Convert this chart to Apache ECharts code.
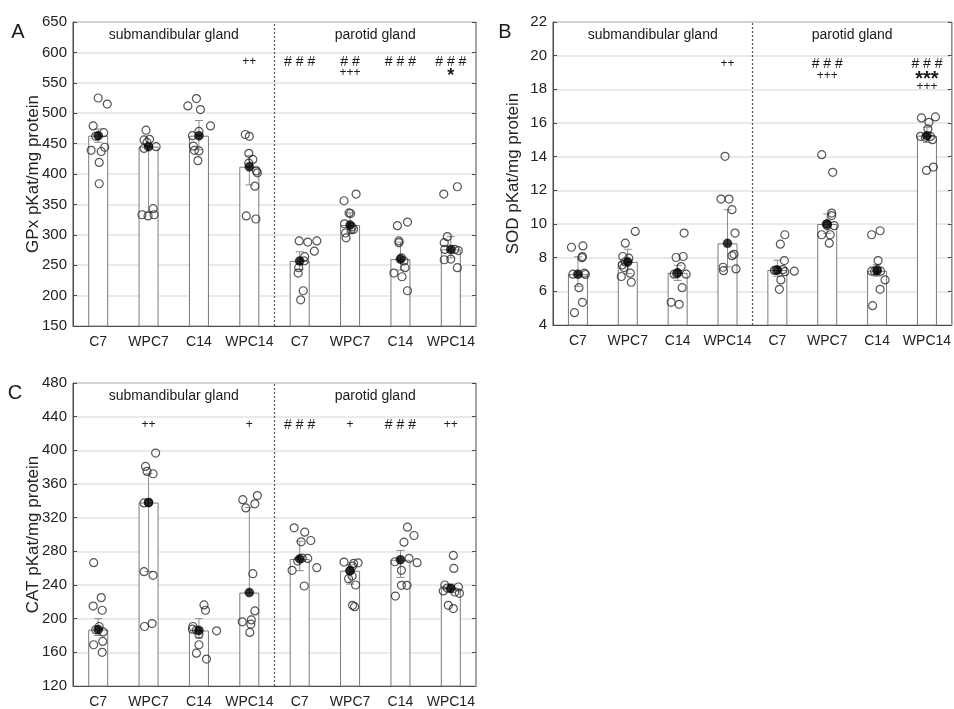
<!DOCTYPE html>
<html><head><meta charset="utf-8">
<script src="https://cdn.jsdelivr.net/npm/echarts/dist/echarts.min.js"></script>
<style>html,body{margin:0;padding:0;background:#fff}#c{width:954px;height:709px}</style>
</head><body><div id="c"></div>
<script>
// ---------- DATA ----------
const categories = ['C7', 'WPC7', 'C14', 'WPC14', 'C7', 'WPC7', 'C14', 'WPC14'];
const glands = ['submandibular gland', 'parotid gland'];

// Panel A: GPx
const gpxMean = [463, 445, 463, 412, 257, 316, 260, 276];
const gpxLow  = [452, 337, 440, 382, 243, 303, 242, 262];
const gpxHigh = [474, 445, 488, 430, 272, 336, 288, 297];
const gpxPoints = [
  [525, 515, 479, 468, 462, 444, 439, 437, 419, 384],
  [472, 456, 457, 452, 442, 445, 343, 333, 331, 333],
  [524, 512, 506, 479, 470, 463, 446, 439, 438, 422],
  [465, 462, 434, 424, 418, 405, 402, 380, 331, 326],
  [290, 288, 290, 273, 264, 257, 246, 237, 208, 193],
  [367, 356, 336, 335, 318, 313, 309, 308, 303, 295],
  [321, 315, 290, 287, 262, 257, 246, 237, 231, 208],
  [379, 367, 297, 287, 276, 276, 274, 259, 260, 246]
];
const gpxJitter = [
  [0, 0.18, -0.10, 0.11, -0.05, 0.13, -0.14, 0.06, 0.02, 0.02],
  [-0.05, -0.09, 0.02, -0.03, -0.09, 0.15, 0.09, -0.13, -0.01, 0.11],
  [-0.05, -0.22, 0.03, 0.23, 0, -0.13, -0.11, -0.09, 0, -0.02],
  [-0.08, 0, -0.01, 0.07, -0.01, 0.14, 0.16, 0.11, -0.06, 0.13],
  [-0.01, 0.16, 0.34, 0.29, 0.10, 0.09, -0.02, -0.03, 0.07, 0.02],
  [0.12, -0.12, -0.02, 0.01, -0.11, 0.04, 0.07, 0.02, -0.09, -0.08],
  [0.14, -0.06, -0.03, -0.03, 0.02, 0.07, 0.09, -0.13, 0.03, 0.14],
  [0.13, -0.14, -0.07, -0.13, -0.12, 0.08, 0.15, -0.13, 0, 0.13]
];
const gpxSig = [
  ['', '', '', '++', '# # #', '# #', '# # #', '# # #'],
  ['', '', '', '', '', '+++', '', '*']
];

// Panel B: SOD
const sodMean = [7.02, 7.75, 7.1, 8.85, 7.27, 10.0, 7.22, 15.25];
const sodLow  = [6.3, 7.05, 6.65, 7.45, 6.9, 9.45, 6.9, 14.85];
const sodHigh = [8.05, 8.5, 7.55, 10.85, 7.85, 10.6, 7.6, 15.75];
const sodPoints = [
  [8.62, 8.70, 8.07, 8.0, 7.02, 7.08, 7.0, 6.22, 5.35, 4.73],
  [9.56, 8.86, 8.07, 7.97, 7.75, 7.57, 7.41, 6.88, 7.08, 6.54],
  [9.46, 8.01, 8.07, 7.47, 7.02, 7.05, 7.02, 6.22, 5.35, 5.23],
  [14.02, 11.48, 11.48, 10.85, 9.46, 8.2, 8.12, 7.43, 7.23, 7.33],
  [9.36, 8.8, 7.83, 7.24, 7.26, 7.29, 7.17, 7.2, 6.68, 6.12],
  [14.12, 13.07, 10.65, 10.5, 9.9, 9.9, 9.36, 9.36, 8.86, 10.0],
  [9.6, 9.36, 7.83, 7.2, 7.2, 7.2, 6.68, 6.12, 5.15, 7.3],
  [16.3, 16.36, 16.04, 15.65, 15.21, 15.15, 15.01, 13.18, 13.38, 15.2]
];
const sodJitter = [
  [-0.13, 0.10, 0.09, 0.08, -0.10, 0.13, 0.15, 0.02, 0.09, -0.07],
  [0.15, -0.05, -0.10, 0.02, -0.05, -0.11, -0.08, -0.13, 0.05, 0.07],
  [0.13, -0.03, 0.11, 0.07, -0.07, -0.02, 0.17, 0.09, -0.13, 0.03],
  [-0.05, -0.13, 0.03, 0.09, 0.15, 0.13, 0.09, -0.09, -0.08, 0.17],
  [0.15, 0.06, 0.14, -0.06, -0.03, 0.11, 0.15, 0.34, 0.07, 0.04],
  [-0.11, 0.11, 0.09, 0.09, 0, 0.14, -0.11, 0.06, 0.04, -0.02],
  [0.06, -0.11, 0.02, -0.11, -0.05, 0.07, 0.16, 0.06, -0.09, 0.0],
  [-0.11, 0.17, 0.04, 0.02, -0.13, -0.03, 0.11, -0.01, 0.13, 0.07]
];
const sodSig = [
  ['', '', '', '++', '', '# # #', '', '# # #'],
  ['', '', '', '', '', '+++', '', '***'],
  ['', '', '', '', '', '', '', '+++']
];

// Panel C: CAT
const catMean = [187, 338, 186, 231, 271, 257, 270, 236];
const catLow  = [180, 256, 177, 231, 257, 241, 249, 231];
const catHigh = [200, 372, 200, 332, 292, 264, 281, 241];
const catPoints = [
  [266.5, 225, 215, 210, 190.7, 186.7, 184.3, 173, 169, 160],
  [396.8, 380.9, 375, 372.2, 337.5, 338, 255.8, 251.5, 190.7, 194.2],
  [216.3, 210, 190.7, 187.5, 186.5, 185.5, 181.6, 169, 159, 152],
  [346.2, 341.4, 336.4, 331.6, 253.4, 209.2, 196.2, 198.5, 193.4, 183.6],
  [307.9, 302.8, 292.9, 291.3, 268.4, 271.6, 257.4, 260.6, 238.8, 272],
  [267.2, 265.6, 266.4, 262.5, 247.5, 250.7, 240, 215.9, 214.2, 257],
  [308.7, 298.8, 290.9, 267.6, 271.6, 266.5, 257.4, 239.6, 239.6, 226.9],
  [275.1, 259.7, 240, 237.6, 236.4, 231.7, 230.1, 215.9, 212, 233]
];
const catJitter = [
  [-0.09, 0.06, -0.10, 0.08, 0.02, -0.05, 0.10, 0.09, -0.09, 0.08],
  [0.14, -0.06, -0.03, 0.09, -0.09, 0, -0.09, 0.09, -0.08, 0.07],
  [0.10, 0.13, -0.12, -0.13, -0.05, 0.35, 0, 0, -0.05, 0.15],
  [0.16, -0.13, 0.11, -0.07, 0.07, 0.11, -0.14, 0.04, 0.03, 0.01],
  [-0.11, 0.10, 0.22, 0.03, -0.04, 0.16, -0.15, 0.34, 0.09, 0.05],
  [-0.12, 0.07, 0.16, 0.05, -0.03, 0.04, 0.11, 0.05, 0.09, 0.0],
  [0.14, 0.27, 0.07, -0.11, 0.17, 0.33, 0.02, 0.02, 0.13, -0.10],
  [0.05, 0.06, -0.12, 0.15, -0.07, 0.08, 0.17, -0.05, 0.05, -0.15]
];
const catSig = [
  ['', '++', '', '+', '# # #', '+', '# # #', '++']
];

// ---------- LAYOUT ----------
const FONT = '"Liberation Sans", Arial, Helvetica, sans-serif';
const grids = [
  {left: 73, top: 22, width: 403, height: 304},
  {left: 553, top: 22, width: 400, height: 303},
  {left: 73, top: 383, width: 403, height: 304}
];
const panels = [
  {letter: 'A', name: 'GPx pKat/mg protein', min: 150, max: 650, interval: 50,
   mean: gpxMean, low: gpxLow, high: gpxHigh, pts: gpxPoints, jit: gpxJitter, sig: gpxSig,
   rowY: [40, 51], letterX: 18, letterY: 10},
  {letter: 'B', name: 'SOD pKat/mg protein', min: 4, max: 22, interval: 2,
   mean: sodMean, low: sodLow, high: sodHigh, pts: sodPoints, jit: sodJitter, sig: sodSig,
   rowY: [42, 54, 65], letterX: 505, letterY: 10},
  {letter: 'C', name: 'CAT pKat/mg protein', min: 120, max: 480, interval: 40,
   mean: catMean, low: catLow, high: catHigh, pts: catPoints, jit: catJitter, sig: catSig,
   rowY: [42], letterX: 15, letterY: 10}
];

const AX = '#4a4a4a';
const option = {animation: false, textStyle: {fontFamily: FONT}, grid: [], xAxis: [], yAxis: [], series: []};

panels.forEach((p, k) => {
  option.grid.push(Object.assign({show: true, borderColor: AX, borderWidth: 1, backgroundColor: 'transparent'}, grids[k]));
  option.xAxis.push({gridIndex: k, type: 'category', data: categories, position: 'bottom',
    axisLine: {lineStyle: {color: AX}},
    axisTick: {inside: true, alignWithLabel: true, length: 4, lineStyle: {color: AX}},
    axisLabel: {color: '#222', fontSize: 14, margin: 9, interval: 0, fontFamily: FONT}, splitLine: {show: false}});
  option.xAxis.push({gridIndex: k, type: 'category', data: categories, position: 'top',
    axisLine: {show: false},
    axisTick: {inside: true, alignWithLabel: true, interval: 0, length: 4, lineStyle: {color: AX}},
    axisLabel: {show: false, interval: 0}, splitLine: {show: false}});
  option.xAxis.push({gridIndex: k, type: 'value', min: 0, max: 8, show: false});
  option.yAxis.push({gridIndex: k, type: 'value', min: p.min, max: p.max, interval: p.interval, position: 'left',
    name: p.name, nameLocation: 'middle', nameGap: 31, nameRotate: 90, nameMoveOverlap: false,
    nameTextStyle: {fontSize: 17, color: '#222', fontFamily: FONT},
    axisLine: {show: true, lineStyle: {color: AX}},
    axisTick: {show: true, inside: true, length: 4, lineStyle: {color: AX}},
    axisLabel: {fontSize: 15, color: '#222', margin: 6, fontFamily: FONT},
    splitLine: {show: true, lineStyle: {color: '#e3e3e3', width: 1.5}}});
  option.yAxis.push({gridIndex: k, type: 'value', min: p.min, max: p.max, interval: p.interval, position: 'right',
    axisLine: {show: false},
    axisTick: {show: true, inside: true, length: 4, lineStyle: {color: AX}},
    axisLabel: {show: false}, splitLine: {show: false}});

  const xb = 3 * k, xv = 3 * k + 2, yl = 2 * k;
  option.series.push({type: 'bar', xAxisIndex: xb, yAxisIndex: yl, data: p.mean, barWidth: 20, silent: true,
    itemStyle: {color: '#fff', borderColor: '#7a7a7a', borderWidth: 1}, z: 2});
  option.series.push({type: 'custom', xAxisIndex: xv, yAxisIndex: yl, silent: true, z: 3,
    data: p.low.map((lo, i) => [i + 0.5, lo, p.high[i]]),
    encode: {x: 0, y: [1, 2]},
    renderItem: (params, api) => {
      const x = api.value(0);
      const a = api.coord([x, api.value(1)]), b = api.coord([x, api.value(2)]);
      const st = {stroke: '#8c8c8c', lineWidth: 1};
      return {type: 'group', children: [
        {type: 'line', shape: {x1: a[0], y1: a[1], x2: b[0], y2: b[1]}, style: st},
        {type: 'line', shape: {x1: b[0] - 4, y1: b[1], x2: b[0] + 4, y2: b[1]}, style: st},
        {type: 'line', shape: {x1: a[0] - 4, y1: a[1], x2: a[0] + 4, y2: a[1]}, style: st}
      ]};
    }});
  const open = [];
  p.pts.forEach((arr, i) => arr.forEach((v, j) => open.push([i + 0.5 + p.jit[i][j], v])));
  option.series.push({type: 'scatter', xAxisIndex: xv, yAxisIndex: yl, data: open, silent: true, z: 4,
    symbol: 'circle', symbolSize: 8,
    itemStyle: {color: 'rgba(255,255,255,0)', borderColor: '#2a2a2a', borderWidth: 1.2},
    markLine: {silent: true, symbol: 'none', label: {show: false},
      lineStyle: {type: [2, 2], color: '#555', width: 1.2}, data: [{xAxis: 4}]}});
  option.series.push({type: 'scatter', xAxisIndex: xv, yAxisIndex: yl, silent: true, z: 5,
    data: p.mean.map((m, i) => [i + 0.5, m]), symbol: 'circle', symbolSize: 9,
    itemStyle: {color: '#000', borderColor: '#000', borderWidth: 0.5}});
});

const chart = echarts.init(document.getElementById('c'));
chart.setOption(option);

// ---------- TEXT ANNOTATIONS ----------
const graphics = [];
function txt(text, x, y, size, weight) {
  graphics.push({type: 'text', silent: true, z: 10, style: {text: text, x: x, y: y, fill: '#1a1a1a',
    fontSize: size, fontWeight: weight || 'normal', fontFamily: FONT, align: 'center', verticalAlign: 'middle'}});
}
panels.forEach((p, k) => {
  const g = grids[k];
  const xv = 3 * k + 2;
  txt(p.letter, p.letterX, g.top + p.letterY, 20);
  txt(glands[0], chart.convertToPixel({xAxisIndex: xv}, 2), g.top + 13, 14);
  txt(glands[1], chart.convertToPixel({xAxisIndex: xv}, 6), g.top + 13, 14);
  p.sig.forEach((row, r) => {
    row.forEach((s, i) => {
      if (!s) return;
      const x = chart.convertToPixel({xAxisIndex: xv}, i + 0.5);
      let y = g.top + p.rowY[r];
      if (s.indexOf('*') >= 0) txt(s, x, y + 3, s.length > 1 ? 20 : 18, 'bold');
      else if (s.indexOf('#') >= 0) txt(s, x, y, 14);
      else txt(s, x, y, 12);
    });
  });
});
chart.setOption({graphic: graphics});
</script></body></html>
